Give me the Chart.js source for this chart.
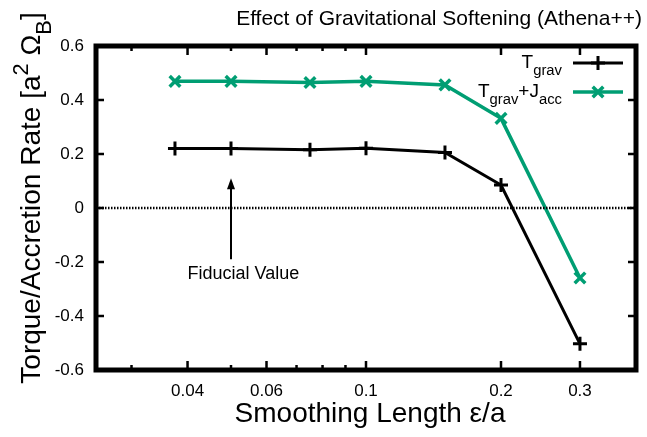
<!DOCTYPE html>
<html><head><meta charset="utf-8">
<script src="https://cdn.jsdelivr.net/npm/chart.js@4/dist/chart.umd.min.js"></script>
<style>html,body{margin:0;padding:0;background:#fff}#wrap{width:647px;height:437px}</style>
</head><body><div id="wrap"><canvas id="c" width="647" height="437"></canvas></div>
<script>
// Softening lengths (epsilon / a) and the measured rates
const softening = [0.0375, 0.05, 0.075, 0.1, 0.15, 0.2, 0.3];
const torqueGrav = [0.220, 0.220, 0.216, 0.221, 0.206, 0.085, -0.503];
const torqueGravAcc = [0.469, 0.469, 0.465, 0.469, 0.456, 0.332, -0.259];

// Axis ticks
const xMajorTicks = [0.04, 0.06, 0.1, 0.2, 0.3];
const xTickLabels = ['0.04', '0.06', '0.1', '0.2', '0.3'];
const xMinorTicks = [0.03, 0.05, 0.07, 0.08, 0.09];
const yTicks = [-0.6, -0.4, -0.2, 0, 0.2, 0.4, 0.6];
const yTickLabels = ['-0.6', '-0.4', '-0.2', '0', '0.2', '0.4', '0.6'];
const xRange = [0.025, 0.4];
const yRange = [-0.6, 0.6];

// Fiducial value annotation
const fiducialEps = 0.05;
const fiducialArrow = [-0.19, 0.11];
const fiducialLabel = { x: 0.04, y: -0.24, text: 'Fiducial Value' };

const FONT = '"Liberation Sans", Arial, Helvetica, sans-serif';
const GREEN = '#009e73';

const near = (a, b) => Math.abs(a - b) < 1e-9;

// draw text made of normal / superscript / subscript pieces
function richWidth(ctx, segs, size) {
  let w = 0;
  for (const s of segs) {
    const fs = (s.sub || s.sup) ? size * 0.78 : size;
    ctx.font = fs + 'px ' + FONT;
    w += ctx.measureText(s.t).width;
  }
  return w;
}
function drawRich(ctx, segs, x, y, size, align) {
  const w = richWidth(ctx, segs, size);
  let cx = align === 'right' ? x - w : align === 'center' ? x - w / 2 : x;
  ctx.textAlign = 'left';
  ctx.textBaseline = 'alphabetic';
  for (const s of segs) {
    const fs = (s.sub || s.sup) ? size * 0.78 : size;
    ctx.font = fs + 'px ' + FONT;
    const dy = s.sup ? -size * 0.42 : s.sub ? size * 0.38 : 0;
    ctx.fillText(s.t, cx, y + dy);
    cx += ctx.measureText(s.t).width;
  }
}

const frame = {
  id: 'frame',
  afterDatasetsDraw(chart) {
    const { ctx, chartArea: a, scales: { x, y } } = chart;
    ctx.save();
    ctx.strokeStyle = '#000';
    ctx.fillStyle = '#000';

    // tick marks, pointing inward on all four sides
    ctx.lineWidth = 2.5;
    ctx.beginPath();
    x.ticks.forEach(t => {
      const px = x.getPixelForValue(t.value);
      const len = t.major ? 9 : 5;
      ctx.moveTo(px, a.bottom); ctx.lineTo(px, a.bottom - len);
      ctx.moveTo(px, a.top); ctx.lineTo(px, a.top + len);
    });
    y.ticks.forEach(t => {
      const py = y.getPixelForValue(t.value);
      ctx.moveTo(a.left, py); ctx.lineTo(a.left + 8, py);
      ctx.moveTo(a.right, py); ctx.lineTo(a.right - 8, py);
    });
    ctx.stroke();

    // plot border
    ctx.lineWidth = 5;
    ctx.strokeRect(a.left, a.top, a.right - a.left, a.bottom - a.top);

    // fiducial arrow
    const ax = x.getPixelForValue(fiducialEps);
    const y0 = y.getPixelForValue(fiducialArrow[0]);
    const y1 = y.getPixelForValue(fiducialArrow[1]);
    ctx.lineWidth = 2;
    ctx.beginPath();
    ctx.moveTo(ax, y0); ctx.lineTo(ax, y1 + 8);
    ctx.stroke();
    ctx.beginPath();
    ctx.moveTo(ax, y1); ctx.lineTo(ax - 4, y1 + 11); ctx.lineTo(ax + 4, y1 + 11); ctx.closePath();
    ctx.fill();
    ctx.font = '18px ' + FONT;
    ctx.textAlign = 'left';
    ctx.textBaseline = 'alphabetic';
    ctx.fillText(fiducialLabel.text, x.getPixelForValue(fiducialLabel.x), y.getPixelForValue(fiducialLabel.y) + 6.5);

    // legend
    const legendRows = [
      { segs: [{ t: 'T' }, { t: 'grav', sub: true }], ds: 1, yPix: 63 },
      { segs: [{ t: 'T' }, { t: 'grav', sub: true }, { t: '+J' }, { t: 'acc', sub: true }], ds: 2, yPix: 92 }
    ];
    legendRows.forEach(r => {
      const ds = chart.data.datasets[r.ds];
      ctx.fillStyle = '#000';
      drawRich(ctx, r.segs, 562, r.yPix + 5, 19, 'right');
      ctx.strokeStyle = ds.borderColor;
      ctx.lineWidth = ds.borderWidth;
      ctx.beginPath(); ctx.moveTo(573, r.yPix); ctx.lineTo(623, r.yPix); ctx.stroke();
      ctx.lineWidth = ds.pointBorderWidth;
      Chart.helpers.drawPoint(ctx, { pointStyle: ds.pointStyle, radius: ds.pointRadius, rotation: 0, borderWidth: ds.pointBorderWidth }, 598, r.yPix);
    });

    // titles
    ctx.fillStyle = '#000';
    ctx.font = '21px ' + FONT;
    ctx.textAlign = 'right';
    ctx.textBaseline = 'alphabetic';
    ctx.fillText('Effect of Gravitational Softening (Athena++)', 642, 25);

    ctx.font = '28px ' + FONT;
    ctx.textAlign = 'center';
    ctx.fillText('Smoothing Length \u03b5/a', 370, 422);

    ctx.translate(40, 198);
    ctx.rotate(-Math.PI / 2);
    drawRich(ctx, [{ t: 'Torque/Accretion Rate [a' }, { t: '2', sup: true }, { t: ' \u03a9' }, { t: 'B', sub: true }, { t: ']' }], 0, 0, 28, 'center');
    ctx.restore();
  }
};

new Chart(document.getElementById('c'), {
  type: 'line',
  data: {
    datasets: [
      {
        label: 'zero',
        data: [{ x: xRange[0], y: 0 }, { x: xRange[1], y: 0 }],
        borderColor: '#000', borderWidth: 2.5, borderDash: [1.5, 1.5], pointRadius: 0
      },
      {
        label: 'T_grav',
        data: softening.map((e, i) => ({ x: e, y: torqueGrav[i] })),
        borderColor: '#000', borderWidth: 3, tension: 0,
        pointStyle: 'cross', pointRadius: 7, pointBorderWidth: 3, pointBorderColor: '#000'
      },
      {
        label: 'T_grav+J_acc',
        data: softening.map((e, i) => ({ x: e, y: torqueGravAcc[i] })),
        borderColor: GREEN, borderWidth: 3.5, tension: 0,
        pointStyle: 'crossRot', pointRadius: 7.5, pointBorderWidth: 3.5, pointBorderColor: GREEN
      }
    ]
  },
  options: {
    responsive: false,
    animation: false,
    devicePixelRatio: 1,
    layout: { padding: { top: 46, right: 4, left: 0, bottom: 0 } },
    plugins: { legend: { display: false }, tooltip: { enabled: false }, title: { display: false } },
    scales: {
      x: {
        type: 'logarithmic', min: xRange[0], max: xRange[1],
        afterBuildTicks: s => {
          s.ticks = [...xMinorTicks, ...xMajorTicks].sort((a, b) => a - b)
            .map(v => ({ value: v, major: xMajorTicks.some(m => near(m, v)) }));
        },
        afterFit: s => { s.height = 67; },
        ticks: {
          autoSkip: false, maxRotation: 0, minRotation: 0, padding: 11, color: '#000',
          font: { family: FONT, size: 17 },
          callback: v => { const i = xMajorTicks.findIndex(m => near(m, v)); return i >= 0 ? xTickLabels[i] : ''; }
        },
        grid: { display: false, drawTicks: false },
        border: { display: false }
      },
      y: {
        type: 'linear', min: yRange[0], max: yRange[1],
        afterBuildTicks: s => { s.ticks = yTicks.map(v => ({ value: v })); },
        afterFit: s => { s.width = 96; },
        ticks: {
          padding: 12, color: '#000', font: { family: FONT, size: 17 },
          callback: v => { const i = yTicks.findIndex(t => near(t, v)); return i >= 0 ? yTickLabels[i] : ''; }
        },
        grid: { display: false, drawTicks: false },
        border: { display: false }
      }
    }
  },
  plugins: [frame]
});
</script>
</body></html>
